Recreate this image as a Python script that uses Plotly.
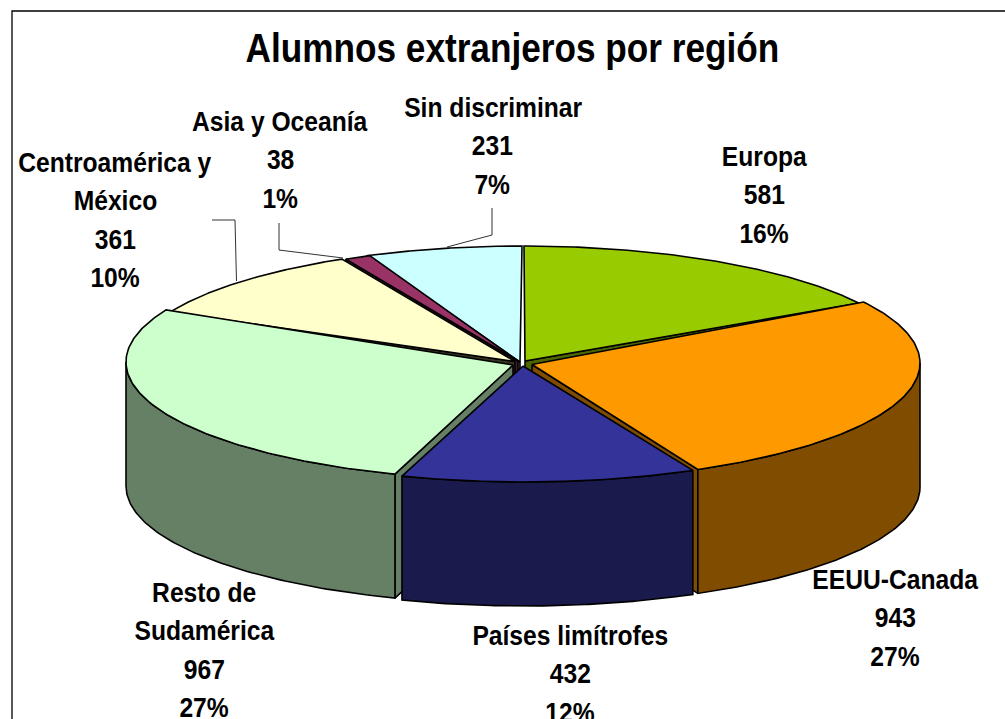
import numpy as np
import plotly.graph_objects as go

# ---- data ----
title = "Alumnos extranjeros por región"
regions = ["Europa", "EEUU-Canada", "Países limítrofes", "Resto de Sudamérica",
           "Centroamérica y México", "Asia y Oceanía", "Sin discriminar"]
label_lines = [["Europa"], ["EEUU-Canada"], ["Países limítrofes"], ["Resto de", "Sudamérica"],
               ["Centroamérica y", "México"], ["Asia y Oceanía"], ["Sin discriminar"]]
values = [581, 943, 432, 967, 361, 38, 231]

# ---- styles ----
top_colors = ["#99CC00", "#FF9900", "#333399", "#CCFFCC", "#FFFFCC", "#993366", "#CCFFFF"]
side_colors = ["#4D6600", "#804D00", "#1A1A4D", "#668066", "#33331F", "#4D1A33", "#668080"]

# ---- layout of the tilted pie (canvas pixels) ----
CX, CY, RX, RY, DEPTH = 523, 364, 391, 118, 124
rim_shift = [(1, 0), (6, -1), (1, 0), (-6, -2), (-2, 0), (2, 0), (-1, 0)]
apex_at = [(525, 361), (532, 364.5), (523, 366), (513, 365), (515, 361.5), (518, 361), (520, 362)]
draw_order = [6, 5, 4, 0, 1, 3, 2]
label_x = [764, 895, 570, 204, 115, 280, 492.5]
label_y = [156, 579, 635, 592, 162, 121, 107]
LINE_PITCH = 38.5
leaders = [[(212, 220), (235, 220), (236.5, 281)],
           [(279, 223), (279, 250), (343, 258)],
           [(492, 208), (492, 235), (447, 247)]]

total = sum(values)
edges = 360 * np.cumsum([0] + values) / total


def rim(theta, shift):
    t = np.radians(theta)
    return CX + shift[0] + RX * np.sin(t), CY + shift[1] - RY * np.cos(t)


def poly(fig, xs, ys, color):
    fig.add_trace(go.Scatter(x=list(xs), y=list(ys), mode="lines", fill="toself", fillcolor=color,
                             line=dict(color="black", width=1.6), hoverinfo="skip", showlegend=False))


fig = go.Figure()

for i in draw_order:
    a0, a1 = edges[i], edges[i + 1]
    shift, apex = rim_shift[i], apex_at[i]
    # flat radial faces that look towards the viewer
    for edge, normal in ((a0, a0 - 90), (a1, a1 + 90)):
        if np.cos(np.radians(normal)) < -1e-6:
            ex, ey = rim(edge, shift)
            poly(fig, [apex[0], ex, ex, apex[0], apex[0]],
                 [apex[1], ey, ey + DEPTH, apex[1] + DEPTH, apex[1]], side_colors[i])
    # outer curved wall (front half only)
    w0, w1 = max(a0, 90), min(a1, 270)
    if w1 > w0:
        th = np.linspace(w0, w1, 80)
        wx, wy = rim(th, shift)
        poly(fig, np.r_[wx, wx[::-1], wx[0]], np.r_[wy, wy[::-1] + DEPTH, wy[0]], side_colors[i])
    # top face
    th = np.linspace(a0, a1, 120)
    tx, ty = rim(th, shift)
    poly(fig, np.r_[apex[0], tx, apex[0]], np.r_[apex[1], ty, apex[1]], top_colors[i])

for pts in leaders:
    fig.add_trace(go.Scatter(x=[p[0] for p in pts], y=[p[1] for p in pts], mode="lines",
                             line=dict(color="#333333", width=1), hoverinfo="skip", showlegend=False))

FONT = "Liberation Sans, Arial, sans-serif"
annotations = [dict(x=512, y=48, xref="x", yref="y", text=f"<b>{title}</b>", showarrow=False,
                    font=dict(family=FONT, size=40, color="black"), xanchor="center", yanchor="middle")]
for i, lines in enumerate(label_lines):
    rows = lines + [str(values[i]), f"{round(100 * values[i] / total)}%"]
    for k, row in enumerate(rows):
        annotations.append(dict(x=label_x[i], y=label_y[i] + k * LINE_PITCH, xref="x", yref="y",
                                text=f"<b>{row}</b>", showarrow=False, xanchor="center", yanchor="middle",
                                font=dict(family=FONT, size=28, color="black")))

fig.update_layout(
    width=1005, height=719, margin=dict(l=0, r=0, t=0, b=0),
    paper_bgcolor="white", plot_bgcolor="white", showlegend=False,
    xaxis=dict(range=[0, 1005], visible=False, fixedrange=True),
    yaxis=dict(range=[719, 0], visible=False, fixedrange=True),
    annotations=annotations,
    shapes=[dict(type="rect", xref="x", yref="y", x0=12, y0=11, x1=1040, y1=760,
                 line=dict(color="black", width=1.3), layer="below")],
)
# The reference's lettering is horizontally condensed: squeeze each real text element about its centre.
squeeze = """
document.body.style.margin='0';document.body.style.overflow='hidden';
document.querySelectorAll('.annotation-text').forEach(function(t){
  var b=t.getBBox(), c=b.x+b.width/2;
  t.setAttribute('transform','translate('+c+' 0) scale(0.88 1) translate('+(-c)+' 0)');
});
"""
fig.write_html("out.html", config={"displayModeBar": False}, post_script=squeeze)
